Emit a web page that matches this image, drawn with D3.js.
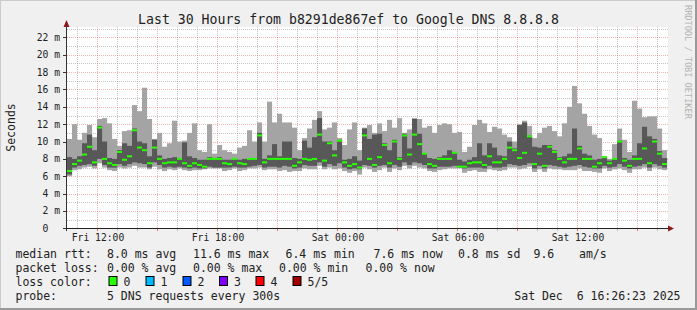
<!DOCTYPE html>
<html>
<head>
<meta charset="utf-8">
<title>Smokeping - Google DNS</title>
<script src="https://d3js.org/d3.v7.min.js"></script>
<style>
    body { margin: 0; background: #f0f0f0; }
    svg text { font-family: "DejaVu Sans Mono", monospace; white-space: pre; }
</style>
</head>
<body>
<div id="graph"></div>
<script>
// ---- data, one entry every 15 minutes starting Fri 10:30 (values in ms) ----
var pingMin = [
    6.0, 6.7, 6.8, 7.0, 7.1, 6.9, 7.5, 7.0, 6.7, 6.6, 7.0, 6.9, 7.0, 7.2, 7.0, 7.0, 6.8, 7.1, 6.8, 6.6,
    6.8, 6.7, 6.9, 6.7, 6.6, 6.7, 6.7, 6.8, 6.9, 6.9, 6.9, 6.6, 6.7, 6.9, 6.6, 6.7, 6.9, 6.9, 7.0, 6.7,
    6.8, 6.8, 6.6, 6.7, 6.5, 6.6, 6.6, 6.9, 6.8, 6.8, 7.2, 6.8, 7.0, 6.8, 6.9, 6.6, 6.4, 6.6, 6.2, 7.0,
    6.8, 6.5, 6.7, 7.0, 6.5, 6.9, 6.7, 7.2, 6.9, 7.2, 7.0, 6.9, 6.6, 6.5, 6.7, 6.8, 6.9, 6.9, 6.9, 6.4,
    6.6, 6.7, 6.5, 6.5, 6.8, 6.7, 6.6, 6.7, 7.0, 7.0, 6.8, 6.9, 7.1, 6.5, 6.8, 6.5, 6.9, 6.8, 6.8, 6.7,
    6.7, 6.7, 6.9, 6.6, 6.6, 6.5, 6.4, 6.9, 6.6, 6.8, 6.9, 6.7, 6.4, 6.8, 6.8, 7.0, 6.6, 7.0, 6.8, 6.7
];
var pingLow = [
    6.2, 7.0, 7.2, 7.3, 7.4, 7.2, 8.0, 7.3, 7.0, 7.0, 7.4, 7.2, 7.4, 7.6, 7.5, 7.4, 7.0, 7.6, 7.3, 7.0,
    7.1, 7.0, 7.1, 7.0, 6.9, 7.0, 6.9, 6.9, 7.1, 7.0, 7.0, 7.0, 7.0, 7.1, 7.0, 7.0, 7.1, 7.2, 7.3, 7.0,
    7.1, 7.1, 7.0, 7.2, 7.1, 6.9, 7.0, 7.3, 7.2, 7.2, 7.6, 7.1, 7.4, 7.2, 7.5, 7.0, 6.8, 6.9, 6.8, 7.3,
    7.2, 7.0, 7.2, 7.3, 7.0, 7.3, 7.1, 7.6, 7.3, 7.6, 7.5, 7.3, 6.9, 6.9, 7.1, 7.1, 7.1, 7.2, 7.0, 6.9,
    7.0, 7.0, 7.0, 6.9, 7.2, 7.0, 7.0, 7.1, 7.4, 7.3, 7.2, 7.3, 7.5, 6.9, 7.2, 6.9, 7.3, 7.2, 7.1, 7.0,
    7.1, 7.2, 7.3, 7.1, 7.0, 6.9, 6.9, 7.2, 7.0, 7.1, 7.4, 7.1, 6.9, 7.1, 7.2, 7.4, 7.0, 7.4, 7.2, 7.0
];
var pingMedian = [
    6.6, 7.4, 7.8, 8.5, 9.4, 7.6, 11.6, 8.0, 7.5, 7.3, 8.8, 7.9, 8.3, 11.3, 9.3, 9.0, 7.5, 9.3, 8.0, 7.5,
    7.6, 7.6, 8.0, 7.5, 7.2, 7.5, 7.3, 7.1, 8.0, 8.0, 8.0, 7.5, 7.4, 8.0, 7.5, 7.4, 8.0, 8.0, 10.7, 7.6,
    8.0, 8.0, 8.0, 8.0, 8.0, 7.2, 7.6, 8.0, 7.9, 8.0, 10.8, 7.8, 9.8, 8.4, 10.1, 7.6, 7.2, 7.4, 7.0, 10.7,
    8.0, 7.3, 8.2, 9.6, 7.5, 10.0, 8.0, 10.7, 8.5, 10.8, 9.7, 8.6, 7.4, 7.2, 8.0, 8.0, 8.0, 8.7, 7.1, 7.1,
    7.5, 7.6, 7.6, 7.3, 8.3, 7.6, 7.6, 8.0, 9.3, 9.0, 8.1, 8.7, 10.6, 7.4, 8.6, 7.2, 9.4, 8.8, 8.0, 7.6,
    8.0, 8.0, 9.2, 8.0, 8.0, 7.1, 7.5, 8.2, 7.5, 8.0, 10.0, 7.8, 7.2, 8.0, 8.0, 9.2, 7.5, 10.0, 8.6, 7.4
];
var pingHigh = [
    8.2, 8.0, 8.3, 9.8, 10.8, 9.0, 11.8, 10.0, 8.1, 8.0, 9.0, 9.8, 9.5, 11.5, 10.0, 9.8, 8.3, 10.2, 8.4, 8.0,
    8.1, 8.2, 8.1, 9.9, 8.3, 8.1, 7.9, 7.9, 8.2, 8.1, 8.2, 7.9, 7.9, 8.1, 7.9, 8.0, 8.1, 8.1, 11.0, 8.0,
    8.4, 9.7, 8.3, 10.0, 10.0, 8.1, 8.0, 10.1, 9.3, 10.5, 12.7, 10.0, 10.0, 9.0, 10.2, 7.9, 8.0, 8.3, 7.8, 11.5,
    10.3, 10.8, 10.9, 9.8, 9.0, 10.2, 8.2, 10.9, 9.2, 12.6, 10.9, 8.6, 8.1, 8.0, 8.2, 8.4, 9.0, 8.8, 7.9, 7.7,
    7.9, 8.2, 9.8, 8.4, 9.8, 9.3, 8.4, 8.3, 10.0, 9.2, 11.9, 12.2, 10.7, 9.4, 9.3, 9.6, 9.6, 9.0, 8.2, 8.3,
    8.6, 11.5, 9.5, 8.6, 8.4, 7.9, 8.0, 8.2, 7.8, 8.1, 10.1, 8.1, 7.9, 8.4, 9.8, 11.7, 10.6, 10.3, 8.9, 8.1
];
var pingMax = [
    10.3, 12.0, 10.2, 11.0, 11.9, 10.5, 12.6, 12.7, 12.1, 10.3, 9.5, 11.2, 11.3, 14.2, 13.5, 16.2, 12.6, 10.3, 11.0, 9.4,
    9.8, 12.4, 10.0, 10.1, 11.0, 12.1, 9.0, 8.8, 12.0, 8.6, 9.6, 9.0, 8.8, 8.6, 9.3, 9.5, 11.3, 10.0, 12.2, 10.0,
    14.6, 12.2, 13.2, 12.2, 12.2, 11.6, 9.0, 10.4, 11.5, 12.5, 13.5, 11.4, 11.6, 12.2, 10.4, 9.6, 11.4, 12.2, 9.0, 11.6,
    11.9, 11.0, 12.1, 11.2, 12.5, 11.6, 12.7, 11.0, 11.4, 12.7, 12.6, 11.6, 11.8, 11.0, 11.9, 12.1, 12.0, 11.0, 11.1, 8.8,
    9.4, 11.9, 12.5, 12.1, 11.1, 11.7, 11.5, 10.8, 10.5, 10.0, 12.0, 12.4, 11.8, 10.4, 11.0, 11.6, 11.8, 11.2, 10.6, 12.1,
    14.0, 16.4, 14.4, 13.2, 11.8, 10.8, 10.4, 8.3, 8.0, 9.7, 11.5, 10.2, 8.8, 14.7, 13.8, 12.8, 12.9, 12.9, 11.5, 9.0
];

var yTicks = [0, 2, 4, 6, 8, 10, 12, 14, 16, 18, 20, 22];
var lossColors = ['#26ff00', '#00b8ff', '#0059ff', '#7e00ff', '#ff0000', '#a10000'];
var lossLabels = ['0', '1', '2', '3', '4', '5/5'];
var rttLegend = ['8.0 ms avg', '11.6 ms max', '6.4 ms min', '7.6 ms now', '0.8 ms sd', '9.6', 'am/s'];
var lossLegend = ['0.00 % avg', '0.00 % max', '0.00 % min', '0.00 % now'];

var W = 697, H = 310;
var plot = { left: 67, right: 668, top: 27, bottom: 228 };

var t0 = new Date(Date.UTC(2025, 11, 5, 10, 30));
var t1 = new Date(Date.UTC(2025, 11, 6, 16, 30));
var stepMs = 15 * 60 * 1000;

var x = d3.scaleUtc().domain([t0, t1]).range([67, 667]);
var y = d3.scaleLinear().domain([0, 23.2]).range([228.3, 27]);

var svg = d3.select("#graph").append("svg")
    .attr("width", W)
    .attr("height", H);

// background + 3d border
svg.append("rect").attr("width", W).attr("height", H).attr("fill", "#f0f0f0");
svg.append("path").attr("d", "M0,0H697M0,0V310").attr("stroke", "#cbcbcb").attr("stroke-width", 2);
svg.append("path").attr("d", "M0,309H697M696,0V310").attr("stroke", "#999").attr("stroke-width", 2);

svg.append("rect")
    .attr("x", plot.left).attr("y", plot.top)
    .attr("width", plot.right - plot.left).attr("height", plot.bottom - plot.top)
    .attr("fill", "#fff");

// grid
var hours = d3.utcHour.every(1).range(t0, t1);
var minorY = d3.range(1, 24, 1);

svg.append("g").selectAll("line")
    .data(minorY.filter(function (d) { return d % 2; }))
    .enter().append("line")
    .attr("x1", plot.left).attr("x2", plot.right)
    .attr("y1", function (d) { return Math.round(y(d)) + 0.5; })
    .attr("y2", function (d) { return Math.round(y(d)) + 0.5; })
    .attr("stroke", "rgba(160,160,160,0.6)")
    .attr("stroke-dasharray", "1,1");

svg.append("g").selectAll("line")
    .data(hours.filter(function (d) { return d.getUTCHours() % 3; }))
    .enter().append("line")
    .attr("x1", function (d) { return Math.round(x(d)) + 0.5; })
    .attr("x2", function (d) { return Math.round(x(d)) + 0.5; })
    .attr("y1", plot.top).attr("y2", plot.bottom)
    .attr("stroke", "rgba(160,160,160,0.6)")
    .attr("stroke-dasharray", "1,1");

svg.append("g").selectAll("line")
    .data(yTicks.slice(1))
    .enter().append("line")
    .attr("x1", plot.left).attr("x2", plot.right)
    .attr("y1", function (d) { return Math.round(y(d)) + 0.5; })
    .attr("y2", function (d) { return Math.round(y(d)) + 0.5; })
    .attr("stroke", "rgba(230,90,90,0.45)")
    .attr("stroke-dasharray", "1,1");

svg.append("g").selectAll("line")
    .data(hours.filter(function (d) { return d.getUTCHours() % 3 == 0; }))
    .enter().append("line")
    .attr("x1", function (d) { return Math.round(x(d)) + 0.5; })
    .attr("x2", function (d) { return Math.round(x(d)) + 0.5; })
    .attr("y1", plot.top).attr("y2", plot.bottom)
    .attr("stroke", "rgba(230,90,90,0.45)")
    .attr("stroke-dasharray", "1,1");

// smoke
var idx = d3.range(pingMedian.length);
var tAt = function (i) { return new Date(t0.getTime() + i * stepMs); };

var smoke = svg.append("g");
smoke.selectAll(".outer")
    .data(idx).enter().append("rect")
    .attr("class", "outer")
    .attr("x", function (i) { return x(tAt(i)); })
    .attr("width", function (i) { return x(tAt(i + 1)) - x(tAt(i)) + 0.1; })
    .attr("y", function (i) { return y(pingMax[i]); })
    .attr("height", function (i) { return y(pingMin[i]) - y(pingMax[i]); })
    .attr("fill", "#a4a4a4");

smoke.selectAll(".inner")
    .data(idx).enter().append("rect")
    .attr("class", "inner")
    .attr("x", function (i) { return x(tAt(i)); })
    .attr("width", function (i) { return x(tAt(i + 1)) - x(tAt(i)) + 0.1; })
    .attr("y", function (i) { return y(pingHigh[i]); })
    .attr("height", function (i) { return y(pingLow[i]) - y(pingHigh[i]); })
    .attr("fill", "#585858");

smoke.selectAll(".median")
    .data(idx).enter().append("rect")
    .attr("class", "median")
    .attr("x", function (i) { return x(tAt(i)); })
    .attr("width", function (i) { return x(tAt(i + 1)) - x(tAt(i)) + 0.1; })
    .attr("y", function (i) { return y(pingMedian[i]) - 1; })
    .attr("height", 2)
    .attr("fill", lossColors[0]);

// axes
svg.append("line")
    .attr("x1", 66.5).attr("x2", 66.5).attr("y1", 27).attr("y2", 231)
    .attr("stroke", "#333");
svg.append("line")
    .attr("x1", 64).attr("x2", 669).attr("y1", 228.5).attr("y2", 228.5)
    .attr("stroke", "#222");
svg.append("path").attr("d", "M63.5,27L66.5,20L69.5,27Z").attr("fill", "#8b1a1a");
svg.append("path").attr("d", "M668,225.5L674,228.5L668,231.5Z").attr("fill", "#8b1a1a");

svg.append("g").selectAll("line")
    .data(yTicks)
    .enter().append("line")
    .attr("x1", 63).attr("x2", 66)
    .attr("y1", function (d) { return Math.round(y(d)) + 0.5; })
    .attr("y2", function (d) { return Math.round(y(d)) + 0.5; })
    .attr("stroke", "#333");

svg.append("g").selectAll("line")
    .data(hours.slice(1))
    .enter().append("line")
    .attr("x1", function (d) { return Math.round(x(d)) + 0.5; })
    .attr("x2", function (d) { return Math.round(x(d)) + 0.5; })
    .attr("y1", 229).attr("y2", 231)
    .attr("stroke", function (d) { return d.getUTCHours() % 3 ? "#bbb" : "#e07070"; });

svg.append("g").selectAll("text")
    .data(yTicks)
    .enter().append("text")
    .attr("x", 60)
    .attr("y", function (d) { return y(d) + 3.5; })
    .attr("text-anchor", "end")
    .attr("font-size", "9.7px")
    .attr("fill", "#222")
    .text(function (d) { return d == 0 ? "0  " : d + " m"; });

var fmt = d3.utcFormat("%a %H:%M");
svg.append("g").selectAll("text")
    .data(hours.filter(function (d) { return d.getUTCHours() % 6 == 0; }))
    .enter().append("text")
    .attr("x", function (d) { return x(d) + 1; })
    .attr("y", 241)
    .attr("text-anchor", "middle")
    .attr("font-size", "9.7px")
    .attr("fill", "#222")
    .text(fmt);

// titles
svg.append("text")
    .attr("x", 348.5).attr("y", 24)
    .attr("text-anchor", "middle")
    .attr("font-size", "13.2px")
    .attr("fill", "#222")
    .text("Last 30 Hours from b8291de867ef to Google DNS 8.8.8.8");

svg.append("text")
    .attr("transform", "translate(15,127.5) rotate(-90)")
    .attr("text-anchor", "middle")
    .attr("font-size", "11.5px")
    .attr("fill", "#222")
    .text("Seconds");

svg.append("text")
    .attr("transform", "translate(685,5) rotate(90)")
    .attr("font-size", "8.6px")
    .attr("fill", "#b4b4b4")
    .text("RRDTOOL / TOBI OETIKER");

// legend
var legend = svg.append("g")
    .attr("font-size", "11.5px")
    .attr("fill", "#222");

var rttX = [107, 193, 285.5, 373.5, 458, 533.5, 579];
var lossX = [107, 193, 279, 365.5];
var boxX = [108.5, 145.5, 182.5, 219, 255.5, 292.5];

legend.append("text").attr("x", 15.5).attr("y", 258).text("median rtt:");
legend.selectAll(".rtt").data(rttLegend).enter().append("text")
    .attr("class", "rtt")
    .attr("x", function (d, i) { return rttX[i]; })
    .attr("y", 258)
    .text(function (d) { return d; });

legend.append("text").attr("x", 15.5).attr("y", 272).text("packet loss:");
legend.selectAll(".loss").data(lossLegend).enter().append("text")
    .attr("class", "loss")
    .attr("x", function (d, i) { return lossX[i]; })
    .attr("y", 272)
    .text(function (d) { return d; });

legend.append("text").attr("x", 15.5).attr("y", 286).text("loss color:");
legend.selectAll(".lbox").data(lossColors).enter().append("rect")
    .attr("class", "lbox")
    .attr("x", function (d, i) { return boxX[i] + 0.5; })
    .attr("y", 276.5)
    .attr("width", 8).attr("height", 9)
    .attr("fill", function (d) { return d; })
    .attr("stroke", "#000");
legend.selectAll(".llab").data(lossLabels).enter().append("text")
    .attr("class", "llab")
    .attr("x", function (d, i) { return boxX[i] + 15; })
    .attr("y", 286)
    .text(function (d) { return d; });

legend.append("text").attr("x", 15.5).attr("y", 300).text("probe:");
legend.append("text").attr("x", 107).attr("y", 300).text("5 DNS requests every 300s");
legend.append("text").attr("x", 680.5).attr("y", 300).attr("text-anchor", "end")
    .text("Sat Dec  6 16:26:23 2025");
</script>
</body>
</html>
